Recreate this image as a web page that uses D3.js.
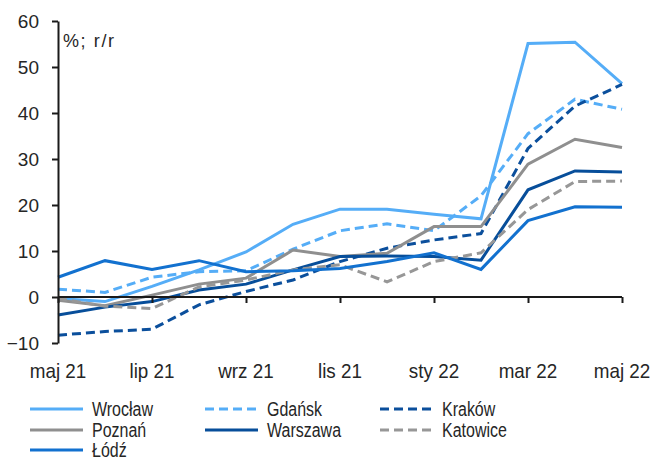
<!DOCTYPE html>
<html>
<head>
<meta charset="utf-8">
<script src="https://cdn.jsdelivr.net/npm/d3@7"></script>
<style>
  html, body { margin: 0; padding: 0; background: #fff; }
  svg { display: block; }
  text { font-family: "Liberation Sans", Arial, sans-serif; fill: #262626; }
</style>
</head>
<body>
<svg id="chart" width="656" height="461"></svg>
<script>
// Monthly periods, maj 21 .. maj 22
const months = ["maj 21","cze 21","lip 21","sie 21","wrz 21","paź 21","lis 21","gru 21","sty 22","lut 22","mar 22","kwi 22","maj 22"];
const tickMonths = ["maj 21","lip 21","wrz 21","lis 21","sty 22","mar 22","maj 22"];
const yTicks = [-10, 0, 10, 20, 30, 40, 50, 60];
const unitLabel = "%; r/r";

// Year-on-year change by city
const wroclaw  = [-0.3, -1.0, 2.3, 5.9, 9.8, 15.8, 19.1, 19.1, 18.0, 17.0, 55.1, 55.4, 46.4];
const gdansk   = [1.7, 1.0, 4.3, 5.5, 5.7, 10.4, 14.4, 15.9, 14.4, 22.0, 35.5, 43.0, 40.8];
const krakow   = [-8.3, -7.5, -7.0, -1.7, 1.2, 3.7, 7.7, 10.6, 12.4, 13.8, 32.3, 41.5, 46.2];
const poznan   = [-0.7, -1.9, 0.4, 2.8, 4.1, 10.2, 8.8, 9.5, 15.3, 15.3, 28.9, 34.3, 32.5];
const warszawa = [-3.9, -2.2, -1.0, 1.5, 2.8, 5.9, 8.8, 8.9, 8.8, 8.0, 23.3, 27.4, 27.2];
const katowice = [-0.3, -2.0, -2.5, 2.2, 3.7, 5.9, 7.0, 3.3, 7.7, 9.6, 19.0, 25.1, 25.2];
const lodz     = [4.3, 7.9, 6.0, 7.9, 5.5, 5.7, 6.2, 7.7, 9.6, 6.0, 16.6, 19.6, 19.5];

const seriesNames = ["Wrocław","Gdańsk","Kraków","Poznań","Warszawa","Katowice","Łódź"];
const seriesValues = [wroclaw, gdansk, krakow, poznan, warszawa, katowice, lodz];

// Line styles per series
const styles = [
  { color: "#55adf7", dash: null },
  { color: "#55adf7", dash: "9,5" },
  { color: "#0b4f9c", dash: "9,5" },
  { color: "#8f8f8f", dash: null },
  { color: "#074e9a", dash: null },
  { color: "#979797", dash: "9,5" },
  { color: "#1271cf", dash: null }
];

const svg = d3.select("#chart");
const x = d3.scalePoint().domain(months).range([58, 622]);
const y = d3.scaleLinear().domain([-10, 60]).range([343, 21]);

// Text helper: narrow glyphs via horizontal scaling
function narrowText(parent, tx, ty, str, size, anchor, sx) {
  return parent.append("text")
    .attr("transform", `translate(${tx},${ty}) scale(${sx},1)`)
    .attr("text-anchor", anchor)
    .attr("font-size", size)
    .text(str);
}

// Lines
const line = d3.line().x((d, i) => x(months[i])).y(d => y(d));
const g = svg.append("g");
seriesValues.forEach((vals, k) => {
  g.append("path")
    .datum(vals)
    .attr("d", line)
    .attr("fill", "none")
    .attr("stroke", styles[k].color)
    .attr("stroke-width", 3)
    .attr("stroke-linejoin", "miter")
    .attr("stroke-dasharray", styles[k].dash);
});

// X axis along zero
const xAxis = d3.axisBottom(x).tickValues(tickMonths).tickSize(6).tickFormat("");
const gx = svg.append("g").attr("transform", `translate(0,${y(0)})`).call(xAxis);
gx.select(".domain").attr("stroke", "#1a1a1a").attr("stroke-width", 2).attr("d", `M${x(months[0])},0H${x(months[12])}`);
gx.selectAll(".tick line").attr("stroke", "#1a1a1a").attr("stroke-width", 2);

// Month labels below the plot
const gm = svg.append("g");
tickMonths.forEach(d => narrowText(gm, x(d), 378, d, 20.5, "middle", 0.92));

// Y axis
const yAxis = d3.axisLeft(y).tickValues(yTicks).tickSize(6).tickPadding(13).tickSizeOuter(0);
const gy = svg.append("g").attr("transform", `translate(${x(months[0])},0)`).call(yAxis);
gy.select(".domain").attr("stroke", "#1a1a1a").attr("stroke-width", 2);
gy.selectAll(".tick line").attr("stroke", "#1a1a1a").attr("stroke-width", 2);
gy.selectAll(".tick text").attr("font-size", 19).attr("font-family", "Liberation Sans, Arial, sans-serif").attr("fill", "#262626");

svg.append("text").attr("x", 63).attr("y", 47).attr("font-size", 18)
  .attr("letter-spacing", 1.6).text(unitLabel);

// Legend
const legendCols = [30, 205, 380];
const legendRows = [409, 430, 450];
const lg = svg.append("g");
seriesNames.forEach((name, k) => {
  const cx = legendCols[k % 3], cy = legendRows[Math.floor(k / 3)];
  lg.append("line")
    .attr("x1", cx).attr("x2", cx + 53).attr("y1", cy).attr("y2", cy)
    .attr("stroke", styles[k].color).attr("stroke-width", 3)
    .attr("stroke-dasharray", styles[k].dash);
  narrowText(lg, cx + 62, cy + 7, name, 19.5, "start", 0.82);
});
</script>
</body>
</html>
